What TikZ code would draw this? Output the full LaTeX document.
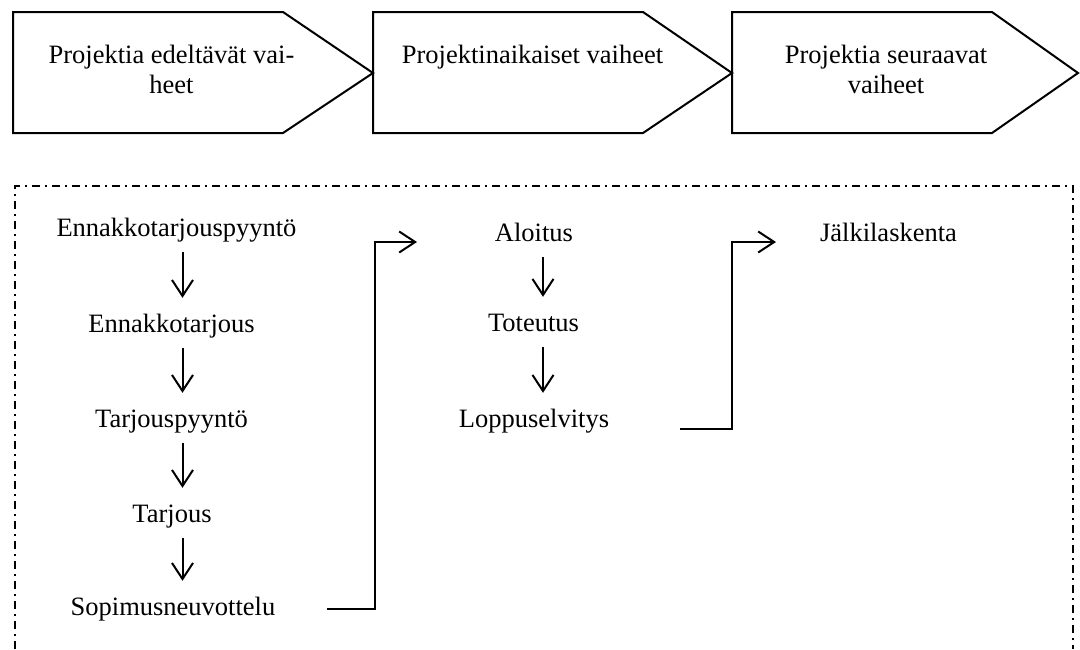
\documentclass[tikz,border=0pt]{standalone}
\usepackage{fontspec}
\setmainfont{Liberation Serif}
\usetikzlibrary{arrows.meta}

\begin{document}
\begin{tikzpicture}[x=1pt,y=-1pt,
  line join=miter,
  txt/.style={font=\fontsize{26.5}{30}\selectfont, inner sep=0pt},
  item/.style={txt, text height=18pt, text depth=6pt, anchor=base},
  head/.style={txt, align=center, anchor=north},
  phase/.style={draw, line width=2pt},
  frame/.style={line width=1.8pt, dash pattern=on 8pt off 5pt on 2pt off 5pt},
  barb/.style={-{Straight Barb[length=16pt,width=21pt]}, line width=2pt},
  down/.style={barb, shorten <=10pt, shorten >=16pt},
  elbow/.style={barb}
]
\useasboundingbox (0,0) rectangle (1080,649);

% phase chevrons
\draw[phase] (13,12) -- (283,12) -- (373,73) -- (283,133) -- (13,133) -- cycle;
\draw[phase] (373,12) -- (643,12) -- (732,73) -- (643,133) -- (373,133) -- cycle;
\draw[phase] (732,12) -- (992,12) -- (1078,73) -- (992,133) -- (732,133) -- cycle;

\node[head] (h1) at (171.5,45) {Projektia edeltävät vai-\\heet};
\node[item] (h2) at (532.5,63) {Projektinaikaiset vaiheet};
\node[head] (h3) at (886,45) {Projektia seuraavat\\vaiheet};

% dash-dot frame, open at the bottom
\draw[frame] (15,649) -- (15,186) -- (1073,186) -- (1073,649);

% column axes for the vertical arrows
\coordinate (c1) at (182.5,0);
\coordinate (c2) at (543,0);

% before the project
\node[item] (n1) at (176.5,236) {Ennakkotarjouspyyntö};
\node[item] (n2) at (171.5,332) {Ennakkotarjous};
\node[item] (n3) at (171.5,427) {Tarjouspyyntö};
\node[item] (n4) at (172,522) {Tarjous};
\node[item] (n5) at (173,615) {Sopimusneuvottelu};

% during the project
\node[item] (m1) at (534,241) {Aloitus};
\node[item] (m2) at (533.5,331) {Toteutus};
\node[item] (m3) at (534,427) {Loppuselvitys};

% after the project
\node[item] (j1) at (888.5,241) {Jälkilaskenta};

\draw[down] (n1.south -| c1) -- (n2.north -| c1);
\draw[down] (n2.south -| c1) -- (n3.north -| c1);
\draw[down] (n3.south -| c1) -- (n4.north -| c1);
\draw[down] (n4.south -| c1) -- (n5.north -| c1);

\draw[down] (m1.south -| c2) -- (m2.north -| c2);
\draw[down] (m2.south -| c2) -- (m3.north -| c2);

% links between the phases
\coordinate (a0) at (327,609);
\coordinate (a1) at (375,242);
\coordinate (a2) at (417,242);
\draw[elbow] (a0) -| (a1) -- (a2);

\coordinate (b0) at (680,429);
\coordinate (b1) at (732,242);
\coordinate (b2) at (776,242);
\draw[elbow] (b0) -| (b1) -- (b2);
\end{tikzpicture}
\end{document}
